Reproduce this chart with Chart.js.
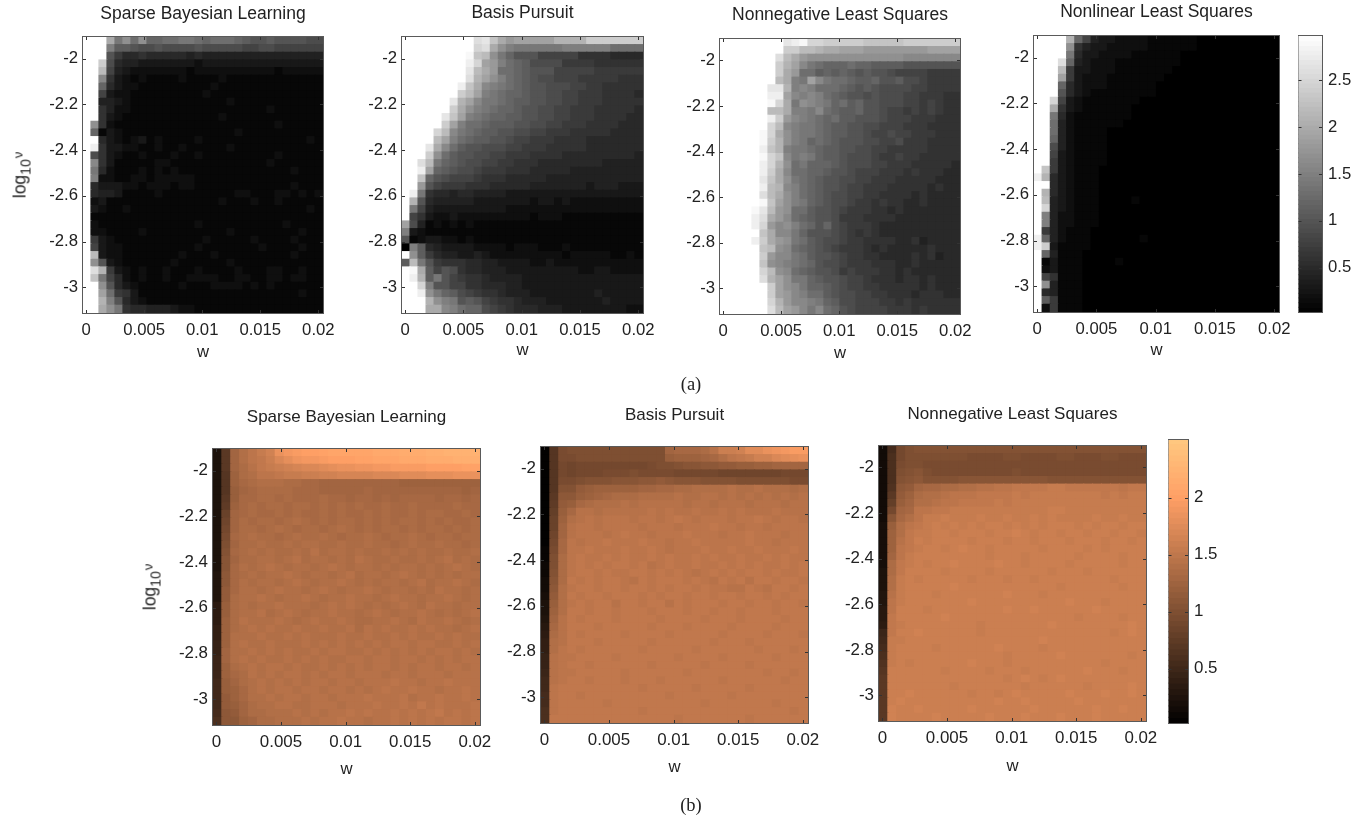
<!DOCTYPE html>
<html>
<head>
<meta charset="utf-8">
<title>Heatmaps</title>
<script src="https://cdn.jsdelivr.net/npm/chart.js@4"></script>
<style>
  html, body { margin: 0; background: #fff; }
  #page { position: relative; width: 1366px; height: 817px; overflow: hidden; filter: blur(0.55px); }
  canvas { position: absolute; }
  .ylabel, .caption { position: absolute; color: #222; white-space: nowrap; }
  .ylabel { font: 17.5px "Liberation Sans", sans-serif; transform: translate(-50%, -50%) rotate(-90deg); }
  .ylabel .sub { font-size: 14px; position: relative; top: 5px; }
  .ylabel .nu { font-size: 13px; position: relative; top: -3px; margin-left: 1px; }
  .caption { font: 18.5px "Liberation Serif", serif; transform: translate(-50%, -50%); }
</style>
</head>
<body>
<div id="page"></div>
<script>
const wTicks = [0, 0.005, 0.01, 0.015, 0.02];
const logvTicks = [-2, -2.2, -2.4, -2.6, -2.8, -3];
const grayBarTicks = [0.5, 1, 1.5, 2, 2.5];
const copperBarTicks = [0.5, 1, 1.5, 2];
const grayBarLevels = [0.05, 0.1, 0.15, 0.2, 0.25, 0.3, 0.35, 0.4, 0.45, 0.5, 0.55, 0.6, 0.65, 0.7, 0.75, 0.8, 0.85, 0.9, 0.95, 1, 1.05, 1.1, 1.15, 1.2, 1.25, 1.3, 1.35, 1.4, 1.45, 1.5, 1.55, 1.6, 1.65, 1.7, 1.75, 1.8, 1.85, 1.9, 1.95, 2, 2.05, 2.1, 2.15, 2.2, 2.25, 2.3, 2.35, 2.4, 2.45, 2.5, 2.55, 2.6, 2.65, 2.7, 2.75, 2.8, 2.85, 2.9, 2.95];
const copperBarLevels = [0.05, 0.1, 0.15, 0.2, 0.25, 0.3, 0.35, 0.4, 0.45, 0.5, 0.55, 0.6, 0.65, 0.7, 0.75, 0.8, 0.85, 0.9, 0.95, 1, 1.05, 1.1, 1.15, 1.2, 1.25, 1.3, 1.35, 1.4, 1.45, 1.5, 1.55, 1.6, 1.65, 1.7, 1.75, 1.8, 1.85, 1.9, 1.95, 2, 2.05, 2.1, 2.15, 2.2, 2.25, 2.3, 2.35, 2.4, 2.45, 2.5];

// one string per row, top row first, one character per w column.
// a character is a level in LEVEL_CHARS, level * step = value
const LEVEL_CHARS = "0123456789abcdefghijklmnopqrstuvwxyzABCDEFGHIJKLMNOPQRSTUVWXYZ";
const STEP_A = 0.1;
const STEP_B = 0.04;

const sblA = [
  "uuukehdhccddeedcdddcbaabaaaa99",
  "uuufbba99a9999a999998899888888",
  "uuua75565555545444444444444444",
  "uuo954433333332333333333333333",
  "uum843222222212222222222122222",
  "uug632121111211112111111111111",
  "uuc532211111111121111111111111",
  "uu8322111111111211111111111111",
  "uu4432111111111111211111111111",
  "uu6422111111111111111112111111",
  "uu6321111111111112111111111111",
  "uh6211111111111111111111211111",
  "uc1321111111111111121111111111",
  "uu5321231211112111111111111121",
  "us6332211211211111211111111111",
  "u96321121112112111111111211111",
  "ug6311111221111111111112111111",
  "ue5211121212111111111111112111",
  "uf2211221222221111111111111111",
  "u53332212221221111111111112111",
  "u54431111211111111122111221212",
  "u23111111111111112111211211111",
  "u32112111111111111111111111121",
  "u11111111111111111111111111111",
  "u21111111111112111111111121111",
  "u22111121111111111211111111211",
  "u73211111111111211111211112111",
  "u83221111111112111111121111211",
  "um3221111111211121111111112111",
  "uha321111112111111211111111111",
  "uql732121121112111121112211211",
  "une852121121122221122112212211",
  "uuha53211111211122221212111111",
  "uujd76311111111111111111111211",
  "uulfa5321111111111111111111111",
  "uukhe6554443221111111111111111"
];
const bpA = [
  "uuuuuuuuuqrnkijjjjjllllooooooo",
  "uuuuuuuuupqkhfeeeeeeffffffdddd",
  "uuuuuuuutnmhecaaa8888866665555",
  "uuuuuuuuspjifdcb99997777666666",
  "uuuuuuuurmkiddcbaaa88888777777",
  "uuuuuuuuqljhfdcba9988877777666",
  "uuuuuuusnkgfedcbaa999887766666",
  "uuuuuuuomjfedccbaa998877766665",
  "uuuuuurljgeedcbbaa998877766666",
  "uuuuuuokhfedccbaa9988777666665",
  "uuuuurnjfedccbbaa9988777666655",
  "uuuuuojfddcbbbaa99887776666555",
  "uuuupmgedcbbaa9988777666665555",
  "uuuumjfdcbbaa98877766665555555",
  "uuurkgdbaa99988777666665555555",
  "uuuohdbaa998877766665555555554",
  "uuqmecba9988776665555555544444",
  "uusjcba99877766655555444444444",
  "uunca9888766655555444444444444",
  "uuia87776665555544444443444333",
  "use655455444433333333333333333",
  "ula544444333333323323222222222",
  "ue8433333333322222222222222222",
  "u86322322222222212221111111111",
  "j94121212111111111111111111111",
  "f32111111111111111111111111111",
  "a12332212111111111111111111111",
  "0fb543333222212221112111111111",
  "uhb754433432222222221222221121",
  "bmea76665544333322322222222222",
  "utkb8a965544433333333322332222",
  "uslbea876654444333333333333333",
  "uupfaa886655544333333333333333",
  "uushecb9876654443333333343333 3".replace(" ", ""),
  "uuulhfeaba87665444333333343333",
  "uuukkgfdcc98765554443333333322"
];
const nnlsA = [
  "uuuuuuuurstppooooonnnnnooooooo",
  "uuuuuuuuoommlkkjjjiiiiiiiijjjj",
  "uuuuuuuqmkihhhhhhhhhhhhggggggg",
  "uuuuuuuoljgedcccdccbbbbaaaaaaa",
  "uuuuuuuokiddbcbcbabaa988887777",
  "uuuuuuumkfejgeddcbbcaab9987777",
  "uuuuuurrlfgfdddcbaba9999887777",
  "uuuuuussjgfgfdcbaa9a9998877766",
  "uuuuuutpkehgfecdbcaa9998878766",
  "uuuuuummkffegdcbbcaa9887878766",
  "uuuuuusoigfedcdbbaaa9888777666",
  "uuuuuupmgfeedcbbaa998887776666",
  "uuuuutpkhfeedcbbaa988988777666",
  "uuuuutolhfecdcbaaa998897776666",
  "uuuuusnlfeedcbbaa9988777776666",
  "uuuuutpngefecbba99987787766666",
  "uuuuusplhdecccba99988777666665",
  "uuuuusokgddccbaa98887776766655",
  "uuuuurnkhedcbaa998877766666555",
  "uuuuusmlgfdcbaa988777666665655",
  "uuuuuqmkhfdcba9988776666565555",
  "uuuuutnjhfecba9987767665565555",
  "uuuutrmihddbaa9877766565555555",
  "uuuusqkigdcbaa9777666655555555",
  "uuuuspighfdcac9877765555555555",
  "uuuuunkggecaaa9876765555555555",
  "uuuusokihedba99877666655645555",
  "uuuuunmhgdcba98777656555556555",
  "uuuuuoiggedbaa9877665555656455",
  "uuuuunhgfedca99877766655655555",
  "uuuuupmhgdcbaa9787776656555555",
  "uuuuuqljheecbaa988766656656555",
  "uuuuuuojhgeccba988776666656555",
  "uuuuuuojigfddba998877666566655",
  "uuuuuupliggfecb998887767666666",
  "uuuuuuqmjigegdca98888777676666"
];
const nlsA = [
  "uuuulc843322221111110000000000",
  "uuuuh6433222221111110000000000",
  "uuuue5332222111111000000000000",
  "uuuqc4322211111111000000000000",
  "uuum73322211111110000000000000",
  "uuuj73222111111100000000000000",
  "uuuc53222111111000000000000000",
  "uuua53211111111000000000000000",
  "uup832111111100000000000000000",
  "uuk632111111000000000000000000",
  "uue521111111000000000000000000",
  "uud421111110000000000000000000",
  "uud421111000000000000000000000",
  "uuc421111000000000000000000000",
  "uu9421111000000000000000000000",
  "uu8321111000000000000000000000",
  "uu7321111000000000000000000000",
  "un7321110000000000000000000000",
  "sl5321110000000000000000000000",
  "uu5321110000000000000000000000",
  "ul5321110000000000000000000000",
  "um4321110000100000000000000000",
  "up4321110000000000000000000000",
  "uf4221110000000000000000000000",
  "uf4221110000000000000000000000",
  "u74211100000000000000000000000",
  "sc4211100000010000000000000000",
  "so3111100000000000000000000000",
  "uc4111000000000000000000000000",
  "u13111000010000000000000000000",
  "u23111000000000000000000000000",
  "u86111000000000000000000000000",
  "uh4111000000000000000000000000",
  "u54111000000000000000000000000",
  "ub7111000000000000000000000000",
  "u27111000000000000000000000000"
];
const sblB = [
  "6iwzBDFKMNOOPQQQQQRRRSSSTTUUUU",
  "6iwzBCEHJLMMNOOOPPQQQRRRSSSTTT",
  "6iwyACDEFGHHIJKKLLMMNNNNOOOOPP",
  "6hvyzBBCDDEEFFGGGGHHHIIIJJJKKK",
  "6hvxyzzzyyxxwwwwwwwwwvvvvvvvvv",
  "6huwxyyyyxxxwwwwwxwwwwwwwwwwvw",
  "6iuxxyyxyxxxyxxwxxwxwxxxxwxxwx",
  "6jvxyxyyxyyxyxyxyxxyxxyxxxxyxx",
  "6lwxyxxyxyxxyxyxxyxyxxyxyyxxyx",
  "6mwyxyyxyzyxyxyyxyxyxyyxyxyxxy",
  "6nwyyxyzyxyyxyzyxyxyyxyxyyxyxy",
  "6oxyzyyxyzyyzyxyyzyxyyzyxyyxyy",
  "6pwyyzyyzyzzyyzyyzyyxyzyyzyyxy",
  "6qxyzyzyyzyAyzzyzyyzyzyzyyzyyz",
  "6rwyyzzyzAyzzyzyAzyyzyyzyzAyzy",
  "6rxzyzAzyzzyzAzyzzyzyzzyzyzAzy",
  "7sxyzyzzAzyzzyzAyzzyzAzyzyzyzz",
  "7sxzyzzyzAzyzzAzyzyzzyzAyzzAzy",
  "7txzzyzAzzyzAzyzzAzyzzyzyAzzyz",
  "7tyzzAzyzzAzyzzAzzyzAzzyzzAzyz",
  "9uyzyzzAzzzyzAzAzyzyzAzyAzzyzz",
  "9uyzzAyzAzyzzAzzyzAzyzzAzyzyzA",
  "9vyAzzzAzyzAzzAzyyzzAzyAzzAzyz",
  "avyzAzAzzAzzAzzAyAzAzzAzAzzyzA",
  "avzzzAzzAzAzzzAzzAzzAzAzzAzAzz",
  "bvzAzzAzzzAzAzAzAzAzAAzAAzzAzA",
  "bwzzAzAzAzzAzAAzzAzAzAzAzAAzAz",
  "cwzAzAzzAzAzAzzAAzAAzAAzAzAzAA",
  "cvyzAzAAzAzzAzAzAzAAzAzAAzAAzA",
  "cvxyAzAzAAzAzAAzAAAzAAzAAAzAAA",
  "duwyzAzAzAzAAzAAzAAABAAzAABAAA",
  "duvxzAzAAzAAzAAzAzABAABAAzAABA",
  "dtvxzzAzAAzAAzAAABAAABzAABAABA",
  "dtuwyzzAAzzAAAzAAABAABACABAAAB",
  "estwyyzzzAzAzAABABAABABABCABAB",
  "fssvwyyzzzAzAABAAzAABABABABBAB"
];
const bpB = [
  "1hopppppppppppwxxxyAEEFIIKLMNN",
  "1hooppppppppppuvvvwxzBCDFFHIJK",
  "1hnmnnnnnnnnoppqrrssttuuvvwwww",
  "1hnmnnnooopoooonnnnnmmmmmmmnnn",
  "1hoopqqqrrrsstsrrrqqqqppppppoo",
  "1hqqtuvvvvvwwxxyyzzzzAzzAzzzyz",
  "1issuvwxyyyzzzzAzzAAzAzAzAzAzA",
  "1jtuxyzzzAzAAAAAzAAzAAAzAAAzAA",
  "1kuxAAzAAAAABABAABAABABAAABAAA",
  "1lvzABABBBABBABCBABBBABBCBABBA",
  "1lwABBABBBBABBBABBBCBBABBABBBB",
  "1mwABBBABCBBABBBCBBBABBCBBBABB",
  "1nxBABBCBBBCBBABBCBBBBBCBBABBB",
  "2oxBBCBBBCBBCBABBBCBBCBBCBBBCB",
  "2pyBCBBCBCBBCBCBBCBCBBCBBCBCBB",
  "3pyBCBCBCCBCABCBBCBBCBCBCBBCBC",
  "3qyBCCBCBBCCBCBCBABCBCBCCBCBBC",
  "4ryCBCBCCBACBCCCBCBACBCACCBCCB",
  "4szBCCBCCBCCBCBCCBCBBAACBACCBC",
  "5tzCBCCBCCCBCBCCBCCBCCBCCBCBCC",
  "6uzBCBCCACCBCCACBCCCBCCBCCBCCB",
  "6vzCCBCCBCCCBCCCBCCBCCBCCCBCCC",
  "7wACBCCCBCCCCBCCCCBCCCBCCCCBCC",
  "8xACCCBCCCCCBCCCBCCCCBCCCCBCCC",
  "9yACBCCCCBCCCCBCCCCCBCCCCBCCCB",
  "azACCCBCCCCCBCCCCCCBCCCBCCCCCC",
  "azBCBCCCCCCBCCCCCBCCCCCCBCCCBC",
  "bABBCCCCBCCCCCCBCCCCBCCCCCBCCC",
  "bABCCBCCCCCCBCCCCCBCCCCBCCCCCC",
  "cABBCCCCCBCCCCCCBCCCCCCCCBCCBC",
  "dABCCBCCCBCCCBCCCCCCBCCCCCCBCC",
  "dBCCCCCCCCCBCCCCCBCCCCCBCCCCCC",
  "eBCCBCCCCCCCCCBCCCCCCBCCCCCCCC",
  "eBCCCCCBCCCCCCCCCCBCCCCCCCBCCC",
  "fBCCCCCCCCCBCCCCCCCCCCCCCCCCBC",
  "fCCCCCCCCCCCCCCBCCCCCCCBCCCCCC"
];
const nnlsB = [
  "4enpqqqqqqqqqqqqqqqqqqqqqqqqqq",
  "4fnpppppppooooppooooppoooppooo",
  "4foppooooooooooooooooooooooooo",
  "4fpqrpooooooooopoooooooooooooo",
  "4fqrsqqqqrrrrrrrrrrqqqqqqqqqqq",
  "4gstwxxyyzzAABBCCCCDDCCCCCCBCC",
  "4itvyzzABBBCCCCDCDDDDDDDDCDCDD",
  "4kuwzzABBCCCCDCDDDDDDDDDDDDDDD",
  "4nwxBBCCDDDDDDDDDDDEEDDDDDDDDD",
  "4rxzBDDEDDDEDDEDDEDEDDDDEDDEDD",
  "5uzBCDEDEDEDEEDEDEDEEEDEDEEDEE",
  "5vzCDDEEDEEEDEEFEDEEDEEDEEDEED",
  "5vACEDEEEEDEEEDEEDEEEDEEEDEEDE",
  "5vBCDEEDEFEEDEEEEEDEEEEDEDEEEE",
  "5wBDEEEEEEEEDEEEDEEEEEDEEEEDEE",
  "5yCDEDEEFEEEEFEEDEEEEDEEEEEDEE",
  "6yCEEEEDEEEEDEEEEEEDEEEDEEEEEE",
  "6zDEDEEEEEDEEEDEEDEEEEEEEEDEEE",
  "6zDEEEEEFEEEEEEEEEEEDEEEEEEDEE",
  "7ADEEEDEEEEEEEFEEEDEEEEEEEEEEE",
  "7BDEEEEEEEFEEEEEEEEEEFEEEDEEEE",
  "8BEEEDEEEEEEEEFEEFEEEEEEFEEEEE",
  "8CEEEEEFEEEEEEEEEEEEEEDEEEEDEE",
  "9CDEEEEEEEEDEEEEEEEFEEEEEEEEFE",
  "cCEEFEEEEEEDEEEEEEEEEEEEEEDEFE",
  "dDDEEEEEEEEEEEEEEEFEEEEEEEEEEE",
  "eDEEEEDEEEEEEFEEEEDEEEEEEEEEEE",
  "fDEEEEEEEEEEEEDEEEEEFEEEEEEEDE",
  "gDEDEEEEEEFEEEDEEEEEEEEEEDEEEE",
  "hEEEEEEDEEEEDEEEDEEEEEEFEEEDEE",
  "iEEEEEEEEEEEEEDEFEDEFEEEEEEEEE",
  "iEEEEEEEDEEEEEEEDEEEEEEDEEEEFE",
  "iEEFEEEEEEDEEDEFEEEEEFEEEFEEFE",
  "iEFEEEEEEEEEEFEEFEEEEEFEEEEEEE",
  "iFEEFEEEEEFEEEEEEFEEEEEEFEEFEE",
  "iFEEEEFEEEEEFEEEFEEEFEEEFEEEEE"
];

const W_MIN = -0.00026, W_MAX = 0.0204;
const LOGV_MIN = -3.112, LOGV_MAX = -1.906;
const SIDE = 60, BELOW = 60;
const TEXT = "#222";
const BOX = "#5a5a5a";

const grayColor = (v) => {
  const x = Math.min(1, Math.max(0, (v - 0.02) / 2.965));
  const c = Math.round(255 * x);
  return `rgb(${c},${c},${c})`;
};
const copperColor = (v) => {
  const x = Math.min(1, Math.max(0, (v - 0.02) / 2.48));
  return `rgb(${Math.round(255 * Math.min(1, 1.25 * x))},${Math.round(199 * x)},${Math.round(127 * x)})`;
};

function cellsFrom(rows, step, color) {
  const dw = (W_MAX - W_MIN) / 30;
  const dv = (LOGV_MAX - LOGV_MIN) / rows.length;
  const cells = [];
  const colors = [];
  rows.forEach((row, r) => {
    for (let c = 0; c < 30; c++) {
      const ch = row[c] ?? row[row.length - 1];
      const top = LOGV_MAX - r * dv;
      cells.push({ x: W_MIN + (c + 0.5) * dw, y: [top - dv, top] });
      colors.push(color(LEVEL_CHARS.indexOf(ch) * step));
    }
  });
  return { cells, colors };
}

// matlab style axes: full box, ticks pointing inwards on every side
const insideBox = {
  id: "insideBox",
  afterDatasetsDraw(chart) {
    const { ctx, chartArea: a, scales } = chart;
    ctx.save();
    ctx.strokeStyle = BOX;
    ctx.lineWidth = 1;
    ctx.strokeRect(a.left - 0.5, a.top - 0.5, a.right - a.left + 1, a.bottom - a.top + 1);
    ctx.strokeStyle = "#333";
    ctx.beginPath();
    if (scales.x.options.display) {
      scales.x.ticks.forEach((t) => {
        const px = Math.round(scales.x.getPixelForValue(t.value)) + 0.5;
        ctx.moveTo(px, a.bottom); ctx.lineTo(px, a.bottom - 3);
        ctx.moveTo(px, a.top); ctx.lineTo(px, a.top + 3);
      });
    }
    scales.y.ticks.forEach((t) => {
      const py = Math.round(scales.y.getPixelForValue(t.value)) + 0.5;
      ctx.moveTo(a.left, py); ctx.lineTo(a.left + 3, py);
      ctx.moveTo(a.right, py); ctx.lineTo(a.right - 3, py);
    });
    ctx.stroke();
    ctx.restore();
  },
};

function addCanvas(left, top, width, height) {
  const canvas = document.createElement("canvas");
  canvas.width = width;
  canvas.height = height;
  canvas.style.left = `${left}px`;
  canvas.style.top = `${top}px`;
  document.getElementById("page").appendChild(canvas);
  return canvas;
}

function createHeatmap(p) {
  const titleBox = 22 + p.titleGap;
  const canvas = addCanvas(
    p.left - SIDE,
    p.top - titleBox,
    p.right - p.left + 2 * SIDE,
    p.bottom - p.top + titleBox + BELOW
  );
  const { cells, colors } = cellsFrom(p.rows, p.step, p.color);
  const tickFont = { family: "Liberation Sans", size: p.tickSize };
  new Chart(canvas, {
    type: "bar",
    data: { datasets: [{ data: cells, backgroundColor: colors, borderWidth: 0, inflateAmount: 0.6, barPercentage: 1, categoryPercentage: 1 }] },
    plugins: [insideBox],
    options: {
      responsive: false,
      animation: false,
      layout: { padding: { right: SIDE } },
      plugins: {
        legend: { display: false },
        tooltip: { enabled: false },
        title: {
          display: true,
          fullSize: false,
          text: p.title,
          color: TEXT,
          font: { family: "Liberation Sans", size: p.titleSize, weight: "normal", lineHeight: "22px" },
          padding: { top: 0, bottom: p.titleGap },
        },
      },
      scales: {
        x: {
          type: "linear",
          min: W_MIN,
          max: W_MAX,
          offset: false,
          grid: { display: false, drawTicks: false, offset: false },
          border: { display: false },
          afterBuildTicks: (s) => { s.ticks = wTicks.map((value) => ({ value })); },
          afterFit: (s) => { s.height = BELOW; },
          ticks: { color: TEXT, font: tickFont, padding: 7, maxRotation: 0, autoSkip: false, callback: (v) => String(v) },
          title: { display: true, text: "w", color: TEXT, font: { family: "Liberation Sans", size: 16.7 }, padding: { top: 0, bottom: BELOW - p.wGap - 10 } },
        },
        y: {
          min: LOGV_MIN,
          max: LOGV_MAX,
          grid: { display: false, drawTicks: false },
          border: { display: false },
          afterBuildTicks: (s) => { s.ticks = logvTicks.map((value) => ({ value })); },
          afterFit: (s) => { s.width = SIDE; },
          ticks: { color: TEXT, font: tickFont, padding: 5, autoSkip: false, callback: (v) => String(v) },
        },
      },
    },
  });
}

function createColorbar(b) {
  const pad = 20;
  const canvas = addCanvas(b.left, b.top - pad, b.right - b.left + 50, b.bottom - b.top + 2 * pad);
  const half = b.levels[1] - b.levels[0];
  new Chart(canvas, {
    type: "bar",
    data: {
      datasets: [{
        data: b.levels.map((v) => ({ x: 0.5, y: [v - half / 2, v + half / 2] })),
        backgroundColor: b.levels.map(b.color),
        borderWidth: 0,
        inflateAmount: 0.6,
        barPercentage: 1,
        categoryPercentage: 1,
      }],
    },
    plugins: [insideBox],
    options: {
      responsive: false,
      animation: false,
      layout: { padding: { top: pad, bottom: pad, left: 0.5 } },
      plugins: { legend: { display: false }, tooltip: { enabled: false } },
      scales: {
        x: { type: "linear", min: 0, max: 1, offset: false, display: false, grid: { offset: false } },
        y: {
          position: "right",
          min: b.min,
          max: b.max,
          grid: { display: false, drawTicks: false },
          border: { display: false },
          afterBuildTicks: (s) => { s.ticks = b.ticks.map((value) => ({ value })); },
          afterFit: (s) => { s.width = 50; },
          ticks: { color: TEXT, font: { family: "Liberation Sans", size: b.tickSize }, padding: 6, autoSkip: false, callback: (v) => String(v) },
        },
      },
    },
  });
}

function addText(className, html, x, y) {
  const el = document.createElement("div");
  el.className = className;
  el.innerHTML = html;
  el.style.left = `${x}px`;
  el.style.top = `${y}px`;
  document.getElementById("page").appendChild(el);
}

const A = { step: STEP_A, color: grayColor, titleSize: 17.5, tickSize: 16.7 };
const B = { step: STEP_B, color: copperColor, titleSize: 17, tickSize: 16.9 };

[
  { ...A, title: "Sparse Bayesian Learning", rows: sblA, left: 83, right: 323, top: 37, bottom: 313, titleGap: 12, wGap: 39 },
  { ...A, title: "Basis Pursuit", rows: bpA, left: 402, right: 643, top: 37, bottom: 313, titleGap: 13, wGap: 37 },
  { ...A, title: "Nonnegative Least Squares", rows: nnlsA, left: 720, right: 960, top: 39, bottom: 314, titleGap: 13, wGap: 39 },
  { ...A, title: "Nonlinear Least Squares", rows: nlsA, left: 1034, right: 1279, top: 36, bottom: 312, titleGap: 13, wGap: 38 },
  { ...B, title: "Sparse Bayesian Learning", rows: sblB, left: 213, right: 480, top: 449, bottom: 725, titleGap: 21, wGap: 44 },
  { ...B, title: "Basis Pursuit", rows: bpB, left: 541, right: 808, top: 447, bottom: 723, titleGap: 21, wGap: 44 },
  { ...B, title: "Nonnegative Least Squares", rows: nnlsB, left: 879, right: 1146, top: 446, bottom: 721, titleGap: 21, wGap: 45 },
].forEach(createHeatmap);

createColorbar({ levels: grayBarLevels, ticks: grayBarTicks, color: grayColor, min: 0.025, max: 2.975, left: 1298, right: 1322, top: 36, bottom: 312, tickSize: 16.7 });
createColorbar({ levels: copperBarLevels, ticks: copperBarTicks, color: copperColor, min: 0.025, max: 2.505, left: 1168, right: 1188, top: 440, bottom: 723, tickSize: 16.9 });

const LOG_NU = 'log<span class="sub">10</span><span class="nu">ν</span>';
addText("ylabel", LOG_NU, 20, 175);
addText("ylabel", LOG_NU, 150, 587);
addText("caption", "(a)", 691, 384);
addText("caption", "(b)", 691, 805);
</script>
</body>
</html>
